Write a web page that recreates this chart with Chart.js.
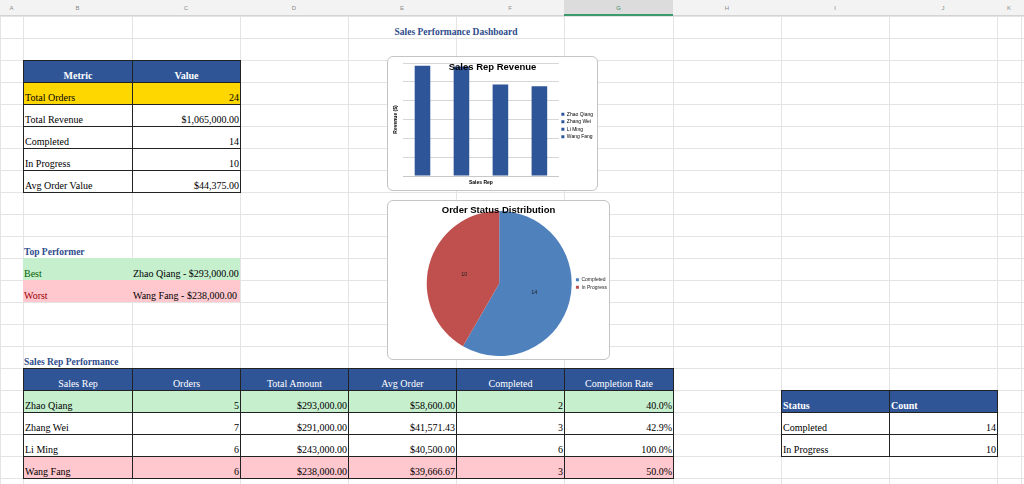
<!DOCTYPE html>
<html>
<head>
<meta charset="utf-8">
<script src="https://cdn.jsdelivr.net/npm/chart.js@4.4.1/dist/chart.umd.min.js"></script>
<style>
body{margin:0;width:1024px;height:484px;overflow:hidden;background:#fff;position:relative;font-family:"Liberation Serif",serif}
.gl{position:absolute;background:#e4e4e4}
.c{position:absolute;box-sizing:border-box;font-size:10px;line-height:12px;display:flex;align-items:flex-end;padding:0 1px 0 1px;white-space:nowrap;color:#000}
.colhdr{position:absolute;left:0;top:0;width:1024px;height:16px;background:#f3f3f3;border-bottom:1px solid #d4d4d4;box-sizing:border-box}
.lt{position:absolute;top:0;height:16px;font:6px "Liberation Sans",sans-serif;line-height:16px;color:#8a8a8a;text-align:center;box-sizing:border-box}
.box{position:absolute;background:#fff;border:1px solid #c4c4c4;border-radius:6px;box-sizing:border-box;overflow:hidden}
</style>
</head>
<body>
<div class="colhdr" id="hdr"></div>
<div id="sheet"></div>
<div class="box" style="left:387px;top:56px;width:211px;height:135px"><canvas id="bar"></canvas></div>
<div class="box" style="left:387px;top:200px;width:223px;height:160px"><canvas id="pie"></canvas></div>
<script>
// data
const reps = ['Zhao Qiang', 'Zhang Wei', 'Li Ming', 'Wang Fang'];
const revenue = [293000, 291000, 243000, 238000];
const orders = [5, 7, 6, 6];
const avgOrder = [58600, 41571.43, 40500, 39666.67];
const completed = [2, 3, 6, 3];
const completionRate = ['40.0%', '42.9%', '100.0%', '50.0%'];
const statusLabels = ['Completed', 'In Progress'];
const statusCounts = [14, 10];
const metrics = ['Total Orders', 'Total Revenue', 'Completed', 'In Progress', 'Avg Order Value'];
const metricValues = ['24', '$1,065,000.00', '14', '10', '$44,375.00'];
const revenueMax = 300000;
const revenueStep = 50000;

const colX = [0, 23, 132, 240, 348, 456, 564, 673, 781, 889, 997, 1021];
const colNames = ['A','B','C','D','E','F','G','H','I','J','K'];
const rowTop = n => 16 + (n - 1) * 22;

const HDR = '#2F5597', YEL = '#FFD700', GRN = '#C6EFCE', RED = '#FFC7CE', SEC = '#2E4C8C';
const money = v => '$' + v.toLocaleString('en-US', {minimumFractionDigits: 2, maximumFractionDigits: 2});

// column letters
const hdr = document.getElementById('hdr');
colNames.forEach((n, i) => {
  const d = document.createElement('div');
  d.className = 'lt';
  d.style.left = colX[i] + 'px';
  d.style.width = (colX[i+1] - colX[i]) + 'px';
  d.textContent = n;
  if (n === 'G') { d.style.background = '#dcdcdc'; d.style.borderBottom = '2px solid #3c9a6c'; d.style.color = '#3c8a60'; }
  hdr.appendChild(d);
});

const sheet = document.getElementById('sheet');
// gridlines
colX.forEach(x => {
  const d = document.createElement('div'); d.className = 'gl';
  d.style.cssText += `left:${x}px;top:16px;width:1px;height:468px`;
  sheet.appendChild(d);
});
for (let r = 1; r <= 22; r++) {
  const d = document.createElement('div'); d.className = 'gl';
  d.style.cssText += `left:0;top:${rowTop(r)}px;width:1024px;height:1px`;
  sheet.appendChild(d);
}

function cell(c0, c1, row, text, o = {}) {
  const d = document.createElement('div'); d.className = 'c';
  let x = colX[c0], y = rowTop(row), w = colX[c1] - x, h = 22;
  if (o.border) { d.style.border = '1px solid #222'; w += 1; h += 1; }
  d.style.left = x + 'px'; d.style.top = y + 'px';
  d.style.width = w + 'px'; d.style.height = h + 'px';
  if (o.bg) d.style.background = o.bg;
  if (o.color) d.style.color = o.color;
  if (o.bold) d.style.fontWeight = 'bold';
  if (o.size) d.style.fontSize = o.size + 'px';
  d.style.justifyContent = o.align === 'r' ? 'flex-end' : o.align === 'c' ? 'center' : 'flex-start';
  d.textContent = text;
  sheet.appendChild(d);
}

// title (merged B1:I1)
cell(1, 9, 1, 'Sales Performance Dashboard', {color: SEC, bold: 1, size: 9.5, align: 'c'});

// metric table
cell(1, 2, 3, 'Metric', {border: 1, bg: HDR, color: '#fff', align: 'c', bold: 1});
cell(2, 3, 3, 'Value', {border: 1, bg: HDR, color: '#fff', align: 'c', bold: 1});
metrics.forEach((m, i) => {
  const bg = i === 0 ? YEL : '#fff';
  cell(1, 2, 4 + i, m, {border: 1, bg});
  cell(2, 3, 4 + i, metricValues[i], {border: 1, bg, align: 'r'});
});

// top performer
cell(1, 2, 11, 'Top Performer', {color: SEC, bold: 1, size: 9.5});
cell(1, 2, 12, 'Best', {bg: GRN, color: '#006100'});
cell(2, 3, 12, reps[0] + ' - ' + money(revenue[0]), {bg: GRN});
cell(1, 2, 13, 'Worst', {bg: RED, color: '#9C0006'});
cell(2, 3, 13, reps[3] + ' - ' + money(revenue[3]), {bg: RED});

// rep table
cell(1, 2, 16, 'Sales Rep Performance', {color: SEC, bold: 1, size: 9.5});
['Sales Rep', 'Orders', 'Total Amount', 'Avg Order', 'Completed', 'Completion Rate'].forEach((h, i) =>
  cell(1 + i, 2 + i, 17, h, {border: 1, bg: HDR, color: '#fff', align: 'c'}));
reps.forEach((r, i) => {
  const bg = i === 0 ? GRN : i === reps.length - 1 ? RED : '#fff';
  const row = 18 + i;
  cell(1, 2, row, r, {border: 1, bg});
  cell(2, 3, row, String(orders[i]), {border: 1, bg, align: 'r'});
  cell(3, 4, row, money(revenue[i]), {border: 1, bg, align: 'r'});
  cell(4, 5, row, money(avgOrder[i]), {border: 1, bg, align: 'r'});
  cell(5, 6, row, String(completed[i]), {border: 1, bg, align: 'r'});
  cell(6, 7, row, completionRate[i], {border: 1, bg, align: 'r'});
});

// status table
cell(8, 9, 18, 'Status', {border: 1, bg: HDR, color: '#fff', bold: 1});
cell(9, 10, 18, 'Count', {border: 1, bg: HDR, color: '#fff', bold: 1});
statusLabels.forEach((s, i) => {
  cell(8, 9, 19 + i, s, {border: 1});
  cell(9, 10, 19 + i, String(statusCounts[i]), {border: 1, align: 'r'});
});

// charts
const sans = 'Liberation Sans';
const barColor = '#2E5597';

const overTitle = {
  id: 'overTitle',
  afterDraw(chart, args, opts) {
    const ctx = chart.ctx;
    ctx.save();
    ctx.font = 'bold 9.5px "Liberation Sans"';
    ctx.fillStyle = '#000';
    ctx.textAlign = 'center';
    ctx.textBaseline = 'middle';
    ctx.fillText(opts.text, chart.width / 2, opts.y);
    ctx.restore();
  }
};

const sliceLabels = {
  id: 'sliceLabels',
  afterDatasetsDraw(chart) {
    const ctx = chart.ctx;
    ctx.save();
    ctx.font = '5.5px "Liberation Sans"';
    ctx.fillStyle = '#222';
    ctx.textAlign = 'center';
    ctx.textBaseline = 'middle';
    chart.getDatasetMeta(0).data.forEach((arc, i) => {
      const p = arc.tooltipPosition();
      ctx.fillText(chart.data.datasets[0].data[i], p.x, p.y);
    });
    ctx.restore();
  }
};

new Chart(document.getElementById('bar'), {
  type: 'bar',
  data: {
    labels: reps,
    datasets: [{label: 'Revenue', data: revenue, backgroundColor: barColor, categoryPercentage: 1, barPercentage: 0.4}]
  },
  options: {
    responsive: true, maintainAspectRatio: false, animation: false, events: [],
    layout: {padding: {left: 3, right: -6, top: 6, bottom: 2}},
    scales: {
      x: {
        ticks: {display: false},
        grid: {display: false, drawTicks: false},
        border: {color: '#c8c8c8'},
        title: {display: true, text: 'Sales Rep', color: '#000', font: {size: 5, weight: 'bold', family: sans}, padding: {top: 4, bottom: 2}}
      },
      y: {
        min: 0, max: revenueMax,
        ticks: {display: false, stepSize: revenueStep},
        grid: {color: '#d6d6d6', drawTicks: false},
        border: {display: false},
        title: {display: true, text: 'Revenue ($)', color: '#000', font: {size: 5, weight: 'bold', family: sans}, padding: {top: 2, bottom: 4}}
      }
    },
    plugins: {
      legend: {
        position: 'right',
        labels: {
          boxWidth: 3, boxHeight: 3, padding: 2.5, color: '#222', font: {size: 5, family: sans},
          generateLabels: ch => ch.data.labels.map((txt, i) => ({text: txt, fillStyle: barColor, strokeStyle: barColor, lineWidth: 0, hidden: false, datasetIndex: 0, index: i}))
        }
      },
      tooltip: {enabled: false},
      overTitle: {text: 'Sales Rep Revenue', y: 10}
    }
  },
  plugins: [overTitle]
});

new Chart(document.getElementById('pie'), {
  type: 'pie',
  data: {
    labels: statusLabels,
    datasets: [{data: statusCounts, backgroundColor: ['#4F81BD', '#C0504D'], borderWidth: 0}]
  },
  options: {
    responsive: true, maintainAspectRatio: false, animation: false, events: [],
    layout: {padding: {left: 37, right: -8, top: 10, bottom: 3}},
    plugins: {
      legend: {
        position: 'right',
        labels: {boxWidth: 3, boxHeight: 3, padding: 2.5, color: '#222', font: {size: 5, family: sans}}
      },
      tooltip: {enabled: false},
      overTitle: {text: 'Order Status Distribution', y: 9}
    }
  },
  plugins: [overTitle, sliceLabels]
});
</script>
</body>
</html>
